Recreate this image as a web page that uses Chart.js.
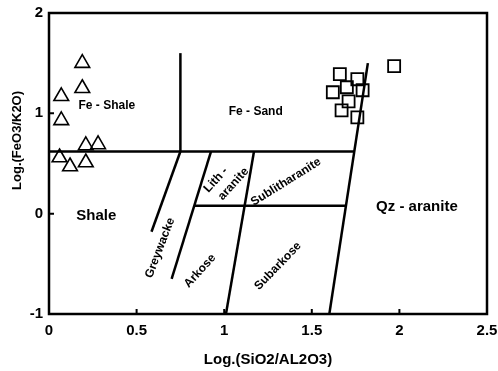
<!DOCTYPE html>
<html>
<head>
<meta charset="utf-8">
<script src="https://cdn.jsdelivr.net/npm/chart.js@4.4.0/dist/chart.umd.min.js"></script>
<style>
  html, body { margin: 0; padding: 0; background: #fff; }
  #wrap { width: 498px; height: 371px; }
</style>
</head>
<body>
<div id="wrap"><canvas id="chart"></canvas></div>
<script>
// Axis ticks
const xTicks = [0, 0.5, 1, 1.5, 2, 2.5];
const yTicks = [-1, 0, 1, 2];

// Shale samples (triangles)
const shaleX = [0.19, 0.19, 0.07, 0.07, 0.21, 0.28, 0.06, 0.12, 0.21];
const shaleY = [1.50, 1.25, 1.17, 0.93, 0.68, 0.69, 0.56, 0.47, 0.51];

// Sandstone samples (squares)
const sandX = [1.66, 1.76, 1.70, 1.62, 1.79, 1.71, 1.67, 1.76, 1.97];
const sandY = [1.39, 1.34, 1.26, 1.21, 1.23, 1.12, 1.03, 0.96, 1.47];

// Field boundaries (start / end of each line)
const lineStartX = [0, 0.75, 0.75, 0.925, 1.17, 0.83, 1.60];
const lineStartY = [0.62, 0.62, 0.62, 0.62, 0.62, 0.08, -1];
const lineEndX = [1.743, 0.75, 0.585, 0.70, 1.01, 1.695, 1.82];
const lineEndY = [0.62, 1.60, -0.18, -0.65, -1, 0.08, 1.50];

// Field names
const fieldNames = ['Fe - Shale', 'Fe - Sand', 'Shale', 'Qz - aranite', 'Greywacke',
  'Arkose', 'Subarkose', 'Sublitharanite', 'Lith -', 'aranite'];
const fieldX = [0.33, 1.18, 0.27, 2.10, 0.634, 0.862, 1.307, 1.353, 0.953, 1.053];
const fieldY = [1.08, 1.02, -0.02, 0.07, -0.342, -0.571, -0.522, 0.316, 0.336, 0.296];
const fieldAngle = [0, 0, 0, 0, -69, -48, -46, -32, -48, -48];
const fieldSize = [12, 12, 15, 15, 12, 12, 12, 12, 12, 12];

const toPoints = (xs, ys) => xs.map((x, i) => ({ x: x, y: ys[i] }));

const boundarySets = lineStartX.map((x, i) => ({
  type: 'line',
  data: [{ x: x, y: lineStartY[i] }, { x: lineEndX[i], y: lineEndY[i] }],
  borderColor: '#000',
  borderWidth: 2.5,
  pointRadius: 0,
  fill: false
}));

// Frame, inward ticks, field names, y title
const extras = {
  id: 'extras',
  afterDatasetsDraw(chart) {
    const ctx = chart.ctx;
    const area = chart.chartArea;
    const xs = chart.scales.x;
    const ys = chart.scales.y;
    ctx.save();
    ctx.strokeStyle = '#000';
    ctx.lineWidth = 2.5;
    ctx.strokeRect(area.left, area.top, area.right - area.left, area.bottom - area.top);

    ctx.lineWidth = 2;
    ctx.beginPath();
    xTicks.forEach(v => {
      const px = xs.getPixelForValue(v);
      ctx.moveTo(px, area.bottom);
      ctx.lineTo(px, area.bottom - 5);
    });
    yTicks.forEach(v => {
      const py = ys.getPixelForValue(v);
      ctx.moveTo(area.left, py);
      ctx.lineTo(area.left + 5, py);
    });
    ctx.stroke();

    ctx.fillStyle = '#000';
    ctx.textAlign = 'center';
    ctx.textBaseline = 'middle';
    fieldNames.forEach((name, i) => {
      ctx.save();
      ctx.translate(xs.getPixelForValue(fieldX[i]), ys.getPixelForValue(fieldY[i]));
      ctx.rotate(fieldAngle[i] * Math.PI / 180);
      ctx.font = 'bold ' + fieldSize[i] + 'px "Liberation Sans", Arial, sans-serif';
      ctx.fillText(name, 0, 0);
      ctx.restore();
    });

    // y axis title sits a little above the middle in the original
    ctx.save();
    ctx.translate(17, ys.getPixelForValue(0.73));
    ctx.rotate(-Math.PI / 2);
    ctx.font = 'bold 13px "Liberation Sans", Arial, sans-serif';
    ctx.fillText('Log.(FeO3/K2O)', 0, 0);
    ctx.restore();
    ctx.restore();
  }
};

const ctx = document.getElementById('chart').getContext('2d');
const chart = new Chart(ctx, {
  type: 'scatter',
  data: {
    datasets: [
      {
        label: 'Shale',
        data: toPoints(shaleX, shaleY),
        pointStyle: 'triangle',
        pointRadius: 8.5,
        pointBorderWidth: 1.6,
        borderColor: '#000',
        backgroundColor: 'rgba(0,0,0,0)'
      },
      {
        label: 'Sandstone',
        data: toPoints(sandX, sandY),
        pointStyle: 'rect',
        pointRadius: 8.5,
        pointBorderWidth: 1.8,
        borderColor: '#000',
        backgroundColor: 'rgba(0,0,0,0)'
      },
      ...boundarySets
    ]
  },
  options: {
    responsive: true,
    maintainAspectRatio: false,
    animation: false,
    layout: {
      padding: { top: 13, right: 11, left: 0, bottom: 0 }
    },
    plugins: {
      legend: { display: false },
      tooltip: { enabled: false }
    },
    scales: {
      x: {
        type: 'linear',
        min: 0,
        max: 2.5,
        afterBuildTicks: scale => { scale.ticks = xTicks.map(v => ({ value: v })); },
        afterFit: scale => {
          scale.height = 57;
          scale.paddingLeft = 0;
          scale.paddingRight = 0;
        },
        grid: { display: false, drawTicks: false },
        border: { display: false },
        ticks: {
          padding: 8,
          color: '#000',
          font: { family: '"Liberation Sans", Arial, sans-serif', size: 15, weight: 'bold' },
          callback: v => String(v)
        },
        title: {
          display: true,
          text: 'Log.(SiO2/AL2O3)',
          color: '#000',
          padding: { top: 4, bottom: 2 },
          font: { family: '"Liberation Sans", Arial, sans-serif', size: 15, weight: 'bold' }
        }
      },
      y: {
        type: 'linear',
        min: -1,
        max: 2,
        afterBuildTicks: scale => { scale.ticks = yTicks.map(v => ({ value: v })); },
        afterFit: scale => {
          scale.width = 49;
          scale.paddingTop = 0;
          scale.paddingBottom = 0;
        },
        grid: { display: false, drawTicks: false },
        border: { display: false },
        ticks: {
          padding: 6,
          color: '#000',
          font: { family: '"Liberation Sans", Arial, sans-serif', size: 15, weight: 'bold' },
          callback: v => String(v)
        }
      }
    }
  },
  plugins: [extras]
});
</script>
</body>
</html>
